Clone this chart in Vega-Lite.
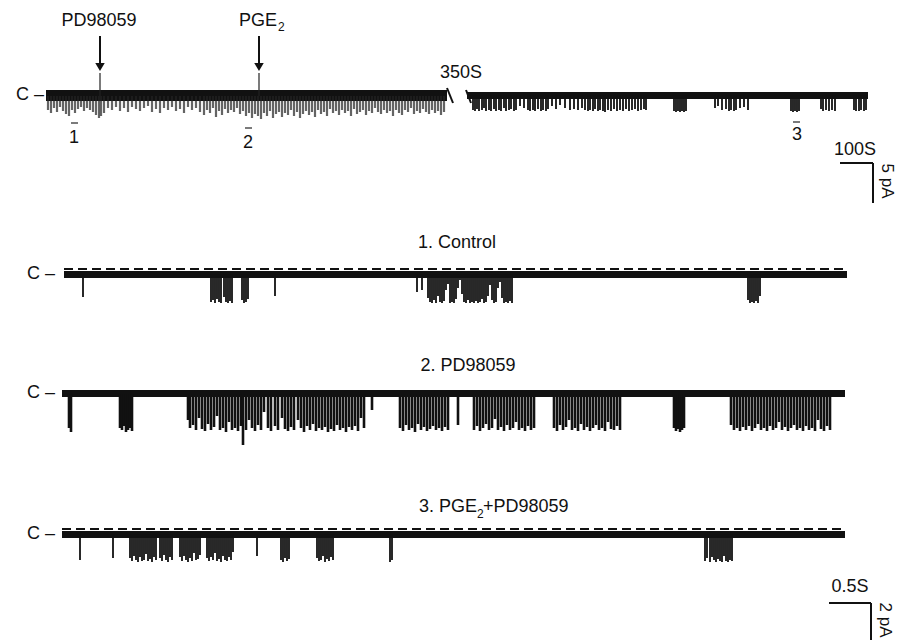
{
  "$schema": "https://vega.github.io/schema/vega-lite/v6.json",
  "width": 901,
  "height": 644,
  "autosize": {"type": "fit", "contains": "padding"},
  "padding": 0,
  "background": "white",
  "config": {"view": {"stroke": null}, "text": {"font": "Liberation Sans", "color": "#111"}},
  "datasets": {
    "bands": [
      {"x": 46, "x2": 447, "y": 90, "y2": 101},
      {"x": 467, "x2": 868, "y": 92, "y2": 99},
      {"x": 64, "x2": 847, "y": 271, "y2": 278},
      {"x": 62, "x2": 845, "y": 390, "y2": 397},
      {"x": 62, "x2": 845, "y": 531, "y2": 538}
    ],
    "dashes": [
      {"x": 64, "x2": 847, "y": 269},
      {"x": 62, "x2": 845, "y": 529}
    ],
    "segs": [
      {"k": "thick", "x": 100, "y": 36, "x2": 100, "y2": 63},
      {"k": "thick", "x": 259, "y": 36, "x2": 259, "y2": 63},
      {"k": "thick", "x": 840, "y": 163, "x2": 873, "y2": 163},
      {"k": "thick", "x": 873, "y": 163, "x2": 873, "y2": 203},
      {"k": "thick", "x": 829, "y": 603, "x2": 871, "y2": 603},
      {"k": "thick", "x": 871, "y": 603, "x2": 871, "y2": 640},
      {"k": "thick", "x": 447, "y": 88, "x2": 453, "y2": 103},
      {"k": "thick", "x": 466, "y": 90, "x2": 471, "y2": 103},
      {"k": "thin", "x": 100, "y": 73, "x2": 100, "y2": 96},
      {"k": "thin", "x": 259, "y": 73, "x2": 259, "y2": 96},
      {"k": "thin", "x": 71, "y": 123, "x2": 78, "y2": 123},
      {"k": "thin", "x": 245, "y": 128, "x2": 252, "y2": 128},
      {"k": "thin", "x": 793, "y": 122, "x2": 800, "y2": 122}
    ],
    "heads": [
      {"x": 100, "y": 67},
      {"x": 259, "y": 67}
    ],
    "texts": [
      {"k": "c", "x": 99, "y": 21, "t": "PD98059"},
      {"k": "r", "x": 277, "y": 21, "t": "PGE"},
      {"k": "s", "x": 278, "y": 27, "t": "2"},
      {"k": "c", "x": 461, "y": 73, "t": "350S"},
      {"k": "c", "x": 30, "y": 95, "t": "C –"},
      {"k": "c", "x": 74, "y": 138, "t": "1"},
      {"k": "c", "x": 248, "y": 143, "t": "2"},
      {"k": "c", "x": 797, "y": 135, "t": "3"},
      {"k": "c", "x": 855, "y": 150, "t": "100S"},
      {"k": "v", "x": 887, "y": 181, "t": "5 pA"},
      {"k": "c", "x": 457, "y": 243, "t": "1. Control"},
      {"k": "c", "x": 41, "y": 274, "t": "C –"},
      {"k": "c", "x": 468, "y": 366, "t": "2. PD98059"},
      {"k": "c", "x": 41, "y": 393, "t": "C –"},
      {"k": "r", "x": 477, "y": 507, "t": "3. PGE"},
      {"k": "s", "x": 477, "y": 514, "t": "2"},
      {"k": "l", "x": 483, "y": 507, "t": "+PD98059"},
      {"k": "c", "x": 41, "y": 534, "t": "C –"},
      {"k": "c", "x": 850, "y": 587, "t": "0.5S"},
      {"k": "v", "x": 885, "y": 620, "t": "2 pA"}
    ],
    "spikes": [
      {"g":"a","x":48,"d":110},{"g":"a","x":51,"d":113},{"g":"a","x":54,"d":108},{"g":"a","x":57,"d":112},{"g":"a","x":60,"d":107},{"g":"a","x":63,"d":111},{"g":"a","x":66,"d":114},{"g":"a","x":69,"d":116},{"g":"a","x":72,"d":110},{"g":"a","x":75,"d":113},{"g":"a","x":78,"d":109},{"g":"a","x":81,"d":107},{"g":"a","x":84,"d":111},{"g":"a","x":87,"d":108},{"g":"a","x":90,"d":110},{"g":"a","x":93,"d":112},{"g":"a","x":96,"d":115},{"g":"a","x":99,"d":118},{"g":"a","x":101,"d":116},{"g":"a","x":104,"d":113},{"g":"a","x":108,"d":108},{"g":"a","x":112,"d":110},{"g":"a","x":116,"d":107},{"g":"a","x":120,"d":111},{"g":"a","x":124,"d":108},{"g":"a","x":128,"d":112},{"g":"a","x":132,"d":107},{"g":"a","x":136,"d":109},{"g":"a","x":140,"d":111},{"g":"a","x":144,"d":108},{"g":"a","x":148,"d":106},{"g":"a","x":152,"d":112},{"g":"a","x":156,"d":109},{"g":"a","x":160,"d":113},{"g":"a","x":164,"d":108},{"g":"a","x":168,"d":110},{"g":"a","x":172,"d":107},{"g":"a","x":176,"d":111},{"g":"a","x":180,"d":109},{"g":"a","x":184,"d":113},{"g":"a","x":188,"d":107},{"g":"a","x":192,"d":110},{"g":"a","x":196,"d":108},{"g":"a","x":200,"d":112},{"g":"a","x":204,"d":115},{"g":"a","x":207,"d":110},{"g":"a","x":210,"d":113},{"g":"a","x":213,"d":108},{"g":"a","x":216,"d":117},{"g":"a","x":219,"d":111},{"g":"a","x":222,"d":115},{"g":"a","x":225,"d":109},{"g":"a","x":228,"d":113},{"g":"a","x":231,"d":110},{"g":"a","x":234,"d":112},{"g":"a","x":237,"d":108},{"g":"a","x":240,"d":114},{"g":"a","x":243,"d":111},{"g":"a","x":246,"d":116},{"g":"a","x":249,"d":113},{"g":"a","x":252,"d":118},{"g":"a","x":255,"d":114},{"g":"a","x":258,"d":116},{"g":"a","x":261,"d":119},{"g":"a","x":264,"d":113},{"g":"a","x":267,"d":116},{"g":"a","x":270,"d":111},{"g":"a","x":273,"d":118},{"g":"a","x":276,"d":114},{"g":"a","x":279,"d":112},{"g":"a","x":282,"d":117},{"g":"a","x":285,"d":113},{"g":"a","x":288,"d":115},{"g":"a","x":291,"d":110},{"g":"a","x":294,"d":116},{"g":"a","x":297,"d":112},{"g":"a","x":300,"d":118},{"g":"a","x":303,"d":114},{"g":"a","x":306,"d":111},{"g":"a","x":309,"d":115},{"g":"a","x":312,"d":112},{"g":"a","x":315,"d":117},{"g":"a","x":318,"d":110},{"g":"a","x":321,"d":114},{"g":"a","x":324,"d":112},{"g":"a","x":327,"d":116},{"g":"a","x":330,"d":109},{"g":"a","x":333,"d":113},{"g":"a","x":336,"d":111},{"g":"a","x":339,"d":115},{"g":"a","x":342,"d":110},{"g":"a","x":345,"d":113},{"g":"a","x":348,"d":111},{"g":"a","x":351,"d":116},{"g":"a","x":354,"d":109},{"g":"a","x":357,"d":114},{"g":"a","x":360,"d":112},{"g":"a","x":363,"d":110},{"g":"a","x":366,"d":115},{"g":"a","x":369,"d":111},{"g":"a","x":372,"d":113},{"g":"a","x":375,"d":108},{"g":"a","x":378,"d":112},{"g":"a","x":381,"d":114},{"g":"a","x":384,"d":110},{"g":"a","x":387,"d":113},{"g":"a","x":390,"d":111},{"g":"a","x":393,"d":116},{"g":"a","x":396,"d":110},{"g":"a","x":399,"d":113},{"g":"a","x":402,"d":115},{"g":"a","x":405,"d":110},{"g":"a","x":408,"d":112},{"g":"a","x":411,"d":108},{"g":"a","x":414,"d":114},{"g":"a","x":417,"d":111},{"g":"a","x":420,"d":113},{"g":"a","x":423,"d":109},{"g":"a","x":426,"d":112},{"g":"a","x":429,"d":114},{"g":"a","x":432,"d":110},{"g":"a","x":435,"d":113},{"g":"a","x":438,"d":111},{"g":"a","x":441,"d":115},{"g":"a","x":444,"d":112},
      {"g":"b","x":473,"d":110},{"g":"b","x":475,"d":111},{"g":"b","x":477,"d":109},{"g":"b","x":479,"d":111},{"g":"b","x":482,"d":110},{"g":"b","x":484,"d":108},{"g":"b","x":486,"d":111},{"g":"b","x":489,"d":110},{"g":"b","x":491,"d":111},{"g":"b","x":494,"d":109},{"g":"b","x":496,"d":111},{"g":"b","x":499,"d":110},{"g":"b","x":501,"d":111},{"g":"b","x":504,"d":108},{"g":"b","x":506,"d":111},{"g":"b","x":509,"d":110},{"g":"b","x":511,"d":109},{"g":"b","x":514,"d":111},{"g":"b","x":516,"d":110},
      {"g":"b","x":520,"d":106},{"g":"b","x":524,"d":108},{"g":"b","x":528,"d":110},{"g":"b","x":530,"d":111},{"g":"b","x":533,"d":110},{"g":"b","x":535,"d":111},{"g":"b","x":538,"d":109},{"g":"b","x":541,"d":111},{"g":"b","x":543,"d":110},{"g":"b","x":546,"d":111},{"g":"b","x":548,"d":109},
      {"g":"b","x":552,"d":106},{"g":"b","x":556,"d":109},{"g":"b","x":560,"d":105},{"g":"b","x":565,"d":108},{"g":"b","x":570,"d":110},{"g":"b","x":574,"d":109},{"g":"b","x":578,"d":110},{"g":"b","x":582,"d":108},{"g":"b","x":585,"d":110},
      {"g":"b","x":588,"d":111},{"g":"b","x":590,"d":110},{"g":"b","x":593,"d":111},{"g":"b","x":595,"d":109},{"g":"b","x":598,"d":111},{"g":"b","x":600,"d":110},{"g":"b","x":603,"d":111},{"g":"b","x":605,"d":112},{"g":"b","x":608,"d":110},{"g":"b","x":611,"d":111},{"g":"b","x":614,"d":109},{"g":"b","x":617,"d":111},{"g":"b","x":620,"d":110},{"g":"b","x":623,"d":111},{"g":"b","x":626,"d":109},{"g":"b","x":629,"d":111},{"g":"b","x":632,"d":110},{"g":"b","x":635,"d":109},{"g":"b","x":638,"d":111},{"g":"b","x":641,"d":110},{"g":"b","x":644,"d":109},{"g":"b","x":646,"d":110},
      {"g":"b","x":674,"d":111},{"g":"b","x":676,"d":112},{"g":"b","x":678,"d":111},{"g":"b","x":680,"d":112},{"g":"b","x":682,"d":111},{"g":"b","x":684,"d":112},{"g":"b","x":686,"d":111},
      {"g":"b","x":715,"d":108},{"g":"b","x":718,"d":106},{"g":"b","x":722,"d":110},{"g":"b","x":726,"d":109},{"g":"b","x":729,"d":111},{"g":"b","x":731,"d":110},{"g":"b","x":734,"d":111},{"g":"b","x":736,"d":110},{"g":"b","x":740,"d":108},{"g":"b","x":744,"d":107},{"g":"b","x":748,"d":110},
      {"g":"b","x":791,"d":111},{"g":"b","x":793,"d":112},{"g":"b","x":795,"d":111},{"g":"b","x":797,"d":112},{"g":"b","x":799,"d":111},
      {"g":"b","x":821,"d":109},{"g":"b","x":823,"d":111},{"g":"b","x":826,"d":110},{"g":"b","x":829,"d":111},{"g":"b","x":832,"d":110},{"g":"b","x":835,"d":111},
      {"g":"b","x":854,"d":110},{"g":"b","x":856,"d":111},{"g":"b","x":859,"d":111},{"g":"b","x":861,"d":110},{"g":"b","x":864,"d":111},{"g":"b","x":866,"d":110},
      {"g":"c1","x":83,"d":297},
      {"g":"c1","x":211,"d":302},{"g":"c1","x":213,"d":300},{"g":"c1","x":215,"d":303},{"g":"c1","x":217,"d":299},{"g":"c1","x":219,"d":302},{"g":"c1","x":221,"d":303},{"g":"c1","x":224,"d":297},{"g":"c1","x":226,"d":302},{"g":"c1","x":228,"d":303},{"g":"c1","x":230,"d":301},{"g":"c1","x":232,"d":303},
      {"g":"c1","x":242,"d":300},{"g":"c1","x":244,"d":303},{"g":"c1","x":246,"d":302},{"g":"c1","x":248,"d":299},
      {"g":"c1","x":275,"d":296},{"g":"c1","x":417,"d":292},{"g":"c1","x":422,"d":290},
      {"g":"c1","x":428,"d":298},{"g":"c1","x":430,"d":302},{"g":"c1","x":432,"d":303},{"g":"c1","x":434,"d":300},{"g":"c1","x":436,"d":303},{"g":"c1","x":438,"d":296},{"g":"c1","x":440,"d":302},{"g":"c1","x":442,"d":303},{"g":"c1","x":444,"d":301},{"g":"c1","x":446,"d":290},{"g":"c1","x":448,"d":284},{"g":"c1","x":450,"d":303},{"g":"c1","x":452,"d":302},{"g":"c1","x":454,"d":303},{"g":"c1","x":456,"d":299},{"g":"c1","x":458,"d":288},{"g":"c1","x":460,"d":280},{"g":"c1","x":462,"d":294},{"g":"c1","x":464,"d":302},{"g":"c1","x":466,"d":303},{"g":"c1","x":468,"d":300},{"g":"c1","x":470,"d":303},{"g":"c1","x":472,"d":302},{"g":"c1","x":474,"d":303},{"g":"c1","x":476,"d":301},{"g":"c1","x":478,"d":303},{"g":"c1","x":480,"d":302},{"g":"c1","x":482,"d":299},{"g":"c1","x":484,"d":303},{"g":"c1","x":486,"d":302},{"g":"c1","x":488,"d":296},{"g":"c1","x":490,"d":285},{"g":"c1","x":492,"d":300},{"g":"c1","x":494,"d":303},{"g":"c1","x":496,"d":302},{"g":"c1","x":498,"d":288},{"g":"c1","x":500,"d":282},{"g":"c1","x":502,"d":298},{"g":"c1","x":504,"d":303},{"g":"c1","x":506,"d":302},{"g":"c1","x":508,"d":303},{"g":"c1","x":510,"d":301},{"g":"c1","x":512,"d":303},
      {"g":"c1","x":748,"d":300},{"g":"c1","x":750,"d":303},{"g":"c1","x":752,"d":302},{"g":"c1","x":754,"d":303},{"g":"c1","x":756,"d":301},{"g":"c1","x":758,"d":303},{"g":"c1","x":760,"d":296},
      {"g":"c2","x":69,"d":428},{"g":"c2","x":71,"d":432},
      {"g":"c2","x":120,"d":428},{"g":"c2","x":122,"d":430},{"g":"c2","x":124,"d":426},{"g":"c2","x":126,"d":432},{"g":"c2","x":128,"d":430},{"g":"c2","x":130,"d":428},{"g":"c2","x":132,"d":431},
      {"g":"c2","x":188,"d":420},{"g":"c2","x":190,"d":428},{"g":"c2","x":193,"d":425},{"g":"c2","x":196,"d":430},{"g":"c2","x":199,"d":418},{"g":"c2","x":202,"d":429},{"g":"c2","x":205,"d":431},{"g":"c2","x":208,"d":424},{"g":"c2","x":211,"d":430},{"g":"c2","x":214,"d":427},{"g":"c2","x":217,"d":416},{"g":"c2","x":220,"d":430},{"g":"c2","x":223,"d":428},{"g":"c2","x":226,"d":432},{"g":"c2","x":229,"d":422},{"g":"c2","x":232,"d":430},{"g":"c2","x":235,"d":428},{"g":"c2","x":238,"d":431},{"g":"c2","x":241,"d":426},{"g":"c2","x":243,"d":445},{"g":"c2","x":246,"d":430},{"g":"c2","x":249,"d":420},{"g":"c2","x":252,"d":428},{"g":"c2","x":255,"d":431},{"g":"c2","x":258,"d":425},{"g":"c2","x":261,"d":430},{"g":"c2","x":264,"d":412},{"g":"c2","x":268,"d":428},{"g":"c2","x":271,"d":431},{"g":"c2","x":275,"d":426},{"g":"c2","x":278,"d":430},{"g":"c2","x":282,"d":418},{"g":"c2","x":285,"d":429},{"g":"c2","x":288,"d":431},{"g":"c2","x":291,"d":427},{"g":"c2","x":294,"d":430},{"g":"c2","x":298,"d":420},{"g":"c2","x":301,"d":428},{"g":"c2","x":304,"d":432},{"g":"c2","x":307,"d":426},{"g":"c2","x":310,"d":430},{"g":"c2","x":313,"d":424},{"g":"c2","x":316,"d":431},{"g":"c2","x":319,"d":428},{"g":"c2","x":322,"d":430},{"g":"c2","x":325,"d":427},{"g":"c2","x":328,"d":432},{"g":"c2","x":331,"d":429},{"g":"c2","x":334,"d":431},{"g":"c2","x":337,"d":425},{"g":"c2","x":340,"d":430},{"g":"c2","x":343,"d":428},{"g":"c2","x":346,"d":432},{"g":"c2","x":349,"d":427},{"g":"c2","x":352,"d":430},{"g":"c2","x":355,"d":426},{"g":"c2","x":358,"d":431},{"g":"c2","x":361,"d":418},{"g":"c2","x":364,"d":428},{"g":"c2","x":372,"d":410},
      {"g":"c2","x":400,"d":428},{"g":"c2","x":403,"d":431},{"g":"c2","x":406,"d":425},{"g":"c2","x":409,"d":430},{"g":"c2","x":412,"d":428},{"g":"c2","x":415,"d":432},{"g":"c2","x":418,"d":424},{"g":"c2","x":421,"d":430},{"g":"c2","x":424,"d":427},{"g":"c2","x":427,"d":431},{"g":"c2","x":430,"d":429},{"g":"c2","x":433,"d":426},{"g":"c2","x":436,"d":430},{"g":"c2","x":439,"d":428},{"g":"c2","x":442,"d":431},{"g":"c2","x":445,"d":427},{"g":"c2","x":448,"d":430},{"g":"c2","x":458,"d":425},
      {"g":"c2","x":474,"d":430},{"g":"c2","x":477,"d":426},{"g":"c2","x":480,"d":431},{"g":"c2","x":483,"d":428},{"g":"c2","x":486,"d":424},{"g":"c2","x":489,"d":430},{"g":"c2","x":492,"d":428},{"g":"c2","x":495,"d":419},{"g":"c2","x":498,"d":430},{"g":"c2","x":501,"d":427},{"g":"c2","x":504,"d":431},{"g":"c2","x":507,"d":425},{"g":"c2","x":510,"d":430},{"g":"c2","x":513,"d":428},{"g":"c2","x":516,"d":422},{"g":"c2","x":519,"d":430},{"g":"c2","x":522,"d":428},{"g":"c2","x":525,"d":431},{"g":"c2","x":528,"d":426},{"g":"c2","x":531,"d":430},{"g":"c2","x":534,"d":428},
      {"g":"c2","x":554,"d":428},{"g":"c2","x":557,"d":431},{"g":"c2","x":560,"d":425},{"g":"c2","x":563,"d":430},{"g":"c2","x":566,"d":427},{"g":"c2","x":569,"d":420},{"g":"c2","x":572,"d":430},{"g":"c2","x":575,"d":428},{"g":"c2","x":578,"d":431},{"g":"c2","x":581,"d":424},{"g":"c2","x":584,"d":430},{"g":"c2","x":587,"d":427},{"g":"c2","x":590,"d":431},{"g":"c2","x":593,"d":428},{"g":"c2","x":596,"d":425},{"g":"c2","x":599,"d":430},{"g":"c2","x":602,"d":428},{"g":"c2","x":605,"d":431},{"g":"c2","x":608,"d":422},{"g":"c2","x":611,"d":429},{"g":"c2","x":614,"d":430},{"g":"c2","x":617,"d":426},{"g":"c2","x":620,"d":430},
      {"g":"c2","x":674,"d":428},{"g":"c2","x":676,"d":431},{"g":"c2","x":678,"d":429},{"g":"c2","x":680,"d":432},{"g":"c2","x":682,"d":430},{"g":"c2","x":684,"d":428},
      {"g":"c2","x":731,"d":425},{"g":"c2","x":734,"d":430},{"g":"c2","x":737,"d":428},{"g":"c2","x":740,"d":431},{"g":"c2","x":743,"d":427},{"g":"c2","x":746,"d":430},{"g":"c2","x":749,"d":426},{"g":"c2","x":752,"d":431},{"g":"c2","x":755,"d":428},{"g":"c2","x":758,"d":424},{"g":"c2","x":761,"d":430},{"g":"c2","x":764,"d":428},{"g":"c2","x":767,"d":431},{"g":"c2","x":770,"d":426},{"g":"c2","x":773,"d":430},{"g":"c2","x":776,"d":428},{"g":"c2","x":779,"d":422},{"g":"c2","x":782,"d":430},{"g":"c2","x":785,"d":427},{"g":"c2","x":788,"d":431},{"g":"c2","x":791,"d":428},{"g":"c2","x":794,"d":425},{"g":"c2","x":797,"d":430},{"g":"c2","x":800,"d":428},{"g":"c2","x":803,"d":431},{"g":"c2","x":806,"d":426},{"g":"c2","x":809,"d":430},{"g":"c2","x":812,"d":428},{"g":"c2","x":815,"d":431},{"g":"c2","x":818,"d":420},{"g":"c2","x":821,"d":429},{"g":"c2","x":824,"d":431},{"g":"c2","x":827,"d":426},{"g":"c2","x":830,"d":430},
      {"g":"c3","x":80,"d":560},{"g":"c3","x":113,"d":558},
      {"g":"c3","x":130,"d":558},{"g":"c3","x":132,"d":561},{"g":"c3","x":134,"d":556},{"g":"c3","x":136,"d":560},{"g":"c3","x":138,"d":562},{"g":"c3","x":140,"d":557},{"g":"c3","x":142,"d":561},{"g":"c3","x":144,"d":560},{"g":"c3","x":146,"d":554},{"g":"c3","x":148,"d":561},{"g":"c3","x":150,"d":559},{"g":"c3","x":152,"d":562},{"g":"c3","x":154,"d":557},{"g":"c3","x":156,"d":560},
      {"g":"c3","x":160,"d":558},{"g":"c3","x":162,"d":561},{"g":"c3","x":164,"d":555},{"g":"c3","x":166,"d":560},{"g":"c3","x":168,"d":562},{"g":"c3","x":170,"d":557},{"g":"c3","x":172,"d":560},
      {"g":"c3","x":180,"d":557},{"g":"c3","x":182,"d":561},{"g":"c3","x":184,"d":556},{"g":"c3","x":186,"d":560},{"g":"c3","x":188,"d":562},{"g":"c3","x":190,"d":558},{"g":"c3","x":192,"d":561},{"g":"c3","x":194,"d":553},{"g":"c3","x":196,"d":560},{"g":"c3","x":198,"d":559},{"g":"c3","x":200,"d":555},
      {"g":"c3","x":207,"d":558},{"g":"c3","x":209,"d":561},{"g":"c3","x":211,"d":557},{"g":"c3","x":213,"d":560},{"g":"c3","x":215,"d":553},{"g":"c3","x":217,"d":561},{"g":"c3","x":219,"d":559},{"g":"c3","x":221,"d":562},{"g":"c3","x":223,"d":556},{"g":"c3","x":225,"d":560},{"g":"c3","x":227,"d":561},{"g":"c3","x":229,"d":557},{"g":"c3","x":231,"d":560},{"g":"c3","x":233,"d":552},
      {"g":"c3","x":257,"d":556},
      {"g":"c3","x":281,"d":560},{"g":"c3","x":283,"d":562},{"g":"c3","x":285,"d":558},{"g":"c3","x":287,"d":561},{"g":"c3","x":289,"d":559},
      {"g":"c3","x":317,"d":558},{"g":"c3","x":319,"d":561},{"g":"c3","x":321,"d":560},{"g":"c3","x":323,"d":556},{"g":"c3","x":325,"d":562},{"g":"c3","x":327,"d":559},{"g":"c3","x":329,"d":561},{"g":"c3","x":331,"d":557},{"g":"c3","x":333,"d":560},
      {"g":"c3","x":390,"d":562},{"g":"c3","x":392,"d":560},
      {"g":"c3","x":705,"d":561},{"g":"c3","x":707,"d":558},{"g":"c3","x":710,"d":562},{"g":"c3","x":712,"d":557},{"g":"c3","x":714,"d":560},{"g":"c3","x":716,"d":562},{"g":"c3","x":718,"d":559},{"g":"c3","x":720,"d":561},{"g":"c3","x":722,"d":562},{"g":"c3","x":724,"d":556},{"g":"c3","x":726,"d":561},{"g":"c3","x":728,"d":562},{"g":"c3","x":730,"d":560},{"g":"c3","x":732,"d":561}
    ]
  },
  "encoding": {
    "x": {"field": "x", "type": "quantitative", "scale": {"domain": [0, 901], "nice": false, "zero": false}, "axis": null},
    "y": {"field": "y", "type": "quantitative", "scale": {"domain": [0, 644], "nice": false, "zero": false, "reverse": true}, "axis": null}
  },
  "layer": [
    {
      "data": {"name": "bands"},
      "mark": {"type": "rect", "color": "#111"},
      "encoding": {"x2": {"field": "x2"}, "y2": {"field": "y2"}}
    },
    {
      "data": {"name": "spikes"},
      "transform": [{"filter": "datum.g === 'a'"}],
      "mark": {"type": "rule", "color": "#222", "strokeWidth": 2.2, "opacity": 0.7},
      "encoding": {"y": {"field": "d", "type": "quantitative"}, "y2": {"datum": 96}}
    },
    {
      "data": {"name": "spikes"},
      "transform": [{"filter": "datum.g === 'b'"}],
      "mark": {"type": "rule", "color": "#111", "strokeWidth": 1.8},
      "encoding": {"y": {"field": "d", "type": "quantitative"}, "y2": {"datum": 95}}
    },
    {
      "data": {"name": "spikes"},
      "transform": [{"filter": "datum.g === 'c1'"}],
      "mark": {"type": "rule", "color": "#111", "strokeWidth": 1.8},
      "encoding": {"y": {"field": "d", "type": "quantitative"}, "y2": {"datum": 274}}
    },
    {
      "data": {"name": "spikes"},
      "transform": [{"filter": "datum.g === 'c2'"}],
      "mark": {"type": "rule", "color": "#111", "strokeWidth": 2.6},
      "encoding": {"y": {"field": "d", "type": "quantitative"}, "y2": {"datum": 394}}
    },
    {
      "data": {"name": "spikes"},
      "transform": [{"filter": "datum.g === 'c3'"}],
      "mark": {"type": "rule", "color": "#111", "strokeWidth": 1.8},
      "encoding": {"y": {"field": "d", "type": "quantitative"}, "y2": {"datum": 534}}
    },
    {
      "data": {"name": "dashes"},
      "mark": {"type": "rule", "color": "#111", "strokeWidth": 2, "strokeDash": [9, 5]},
      "encoding": {"x2": {"field": "x2"}}
    },
    {
      "data": {"name": "segs"},
      "transform": [{"filter": "datum.k === 'thick'"}],
      "mark": {"type": "rule", "color": "#111", "strokeWidth": 2},
      "encoding": {"x2": {"field": "x2"}, "y2": {"field": "y2"}}
    },
    {
      "data": {"name": "segs"},
      "transform": [{"filter": "datum.k === 'thin'"}],
      "mark": {"type": "rule", "color": "#222", "strokeWidth": 1.2},
      "encoding": {"x2": {"field": "x2"}, "y2": {"field": "y2"}}
    },
    {
      "data": {"name": "heads"},
      "mark": {"type": "point", "shape": "triangle-down", "filled": true, "color": "#111", "size": 90, "opacity": 1}
    },
    {
      "data": {"name": "texts"},
      "transform": [{"filter": "datum.k === 'c'"}],
      "mark": {"type": "text", "fontSize": 18, "align": "center", "baseline": "middle"},
      "encoding": {"text": {"field": "t"}}
    },
    {
      "data": {"name": "texts"},
      "transform": [{"filter": "datum.k === 'r'"}],
      "mark": {"type": "text", "fontSize": 18, "align": "right", "baseline": "middle"},
      "encoding": {"text": {"field": "t"}}
    },
    {
      "data": {"name": "texts"},
      "transform": [{"filter": "datum.k === 'l'"}],
      "mark": {"type": "text", "fontSize": 18, "align": "left", "baseline": "middle"},
      "encoding": {"text": {"field": "t"}}
    },
    {
      "data": {"name": "texts"},
      "transform": [{"filter": "datum.k === 's'"}],
      "mark": {"type": "text", "fontSize": 12, "align": "left", "baseline": "middle"},
      "encoding": {"text": {"field": "t"}}
    },
    {
      "data": {"name": "texts"},
      "transform": [{"filter": "datum.k === 'v'"}],
      "mark": {"type": "text", "fontSize": 17, "align": "center", "baseline": "middle", "angle": 90},
      "encoding": {"text": {"field": "t"}}
    }
  ]
}
